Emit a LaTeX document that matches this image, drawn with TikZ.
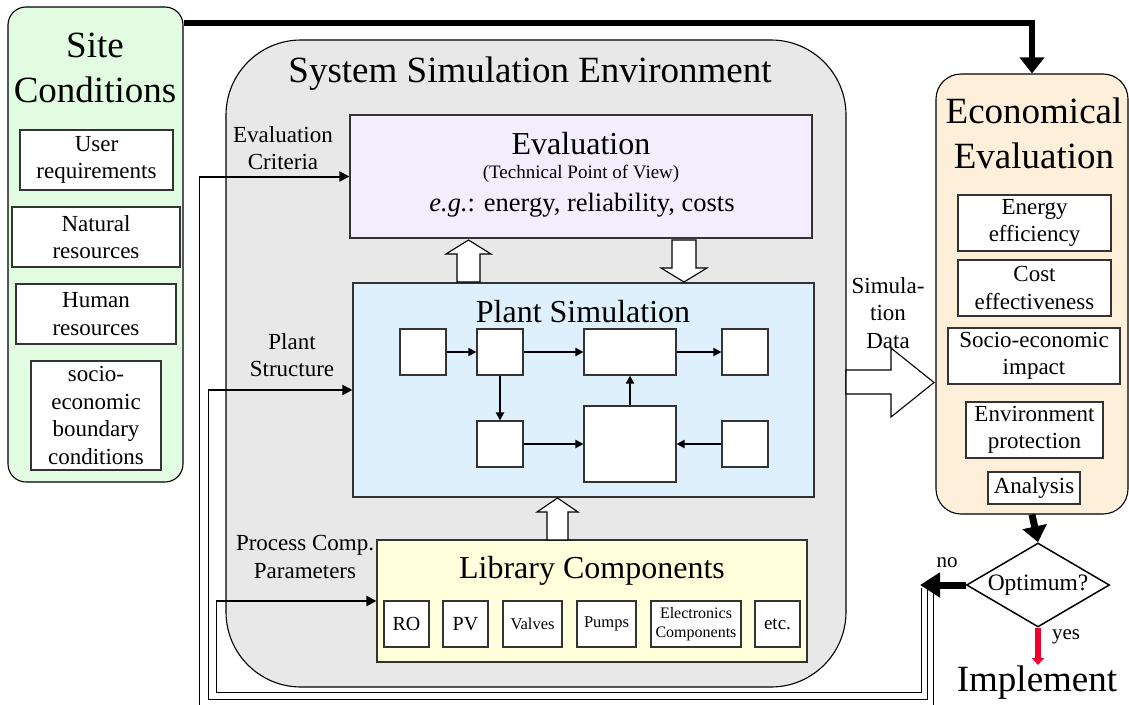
\documentclass[tikz,border=0pt]{standalone}
\usepackage{fontspec}
\setmainfont{Liberation Serif}
\usetikzlibrary{arrows.meta,shapes.geometric}
\definecolor{sitegreen}{RGB}{226,252,226}
\definecolor{envgray}{RGB}{232,232,232}
\definecolor{evallav}{RGB}{243,238,254}
\definecolor{plantblue}{RGB}{222,240,252}
\definecolor{libyellow}{RGB}{255,255,220}
\definecolor{econpeach}{RGB}{253,239,217}
\definecolor{yesred}{RGB}{240,0,44}
\newcommand\myfs[2]{\fontsize{#1}{#2}\selectfont}
\begin{document}
\begin{tikzpicture}[x=1pt,y=-1pt,
  wbox/.style={draw=black!80, fill=white, line width=1.1pt, inner sep=0pt, align=center},
  rbox/.style={draw=black, line width=1.1pt, inner sep=0pt},
  lbl/.style={inner sep=0pt, align=center},
  sarrow/.style={line width=1.8pt, -{Triangle[length=8pt,width=8pt]}},
  inarrow/.style={line width=2pt, -{Triangle[length=10pt,width=10pt]}},
  fbline/.style={line width=1pt},
  blockarrow/.style={draw=black, fill=white, line width=1.1pt, line join=miter},
  small/.style={font=\myfs{23}{27.5}},
]
\useasboundingbox (0,0) rectangle (1129,704);
\clip (0,0) rectangle (1129,704);

% ---------- backgrounds ----------
\node[rbox, fill=sitegreen, rounded corners=18pt, minimum width=175pt, minimum height=475pt] (site) at (95.5,244.5) {};
\node[rbox, fill=envgray, rounded corners=75pt, minimum width=620pt, minimum height=647pt] (env) at (536,363.5) {};
\node[rbox, fill=econpeach, rounded corners=25pt, minimum width=192pt, minimum height=440pt] (econ) at (1032,294) {};

% ---------- Site conditions ----------
\node[lbl, font=\myfs{37}{45}] (sitet) at (95,68) {Site\\Conditions};
\node[wbox, small, minimum width=153pt, minimum height=60pt] (user) at (96.5,160) {User\\requirements};
\node[wbox, small, minimum width=168pt, minimum height=60pt] (natural) at (96,237) {Natural\\resources};
\node[wbox, small, minimum width=160pt, minimum height=60pt] (human) at (96,314) {Human\\resources};
\node[wbox, small, minimum width=130pt, minimum height=109pt] (socio) at (96,415.5) {socio-\\economic\\boundary\\conditions};

% ---------- System simulation environment ----------
\node[lbl, font=\myfs{37}{45}] (envt) at (530,74) {System Simulation Environment};

\node[rbox, draw=black!80, fill=evallav, minimum width=462pt, minimum height=123pt] (eval) at (581,176.5) {};
\node[lbl, font=\myfs{32}{38}] (evalt) at (581,144) {Evaluation};
\node[lbl, font=\myfs{19}{22}] (evaltp) at (581,174) {(Technical Point of View)};
\node[lbl, font=\myfs{26.5}{31}] (evaleg) at (582,205) {\textit{e.g.}: energy, reliability, costs};

\node[rbox, draw=black!80, fill=plantblue, minimum width=461pt, minimum height=214pt] (plant) at (583.5,390) {};
\node[lbl, font=\myfs{32}{38}] (plantt) at (583,312) {Plant Simulation};
\node[wbox, minimum width=46pt, minimum height=46pt] (pa) at (423,352) {};
\node[wbox, minimum width=46pt, minimum height=46pt] (pb) at (500,352) {};
\node[wbox, minimum width=92pt, minimum height=46pt] (pc) at (630,352) {};
\node[wbox, minimum width=46pt, minimum height=46pt] (pd) at (745,352) {};
\node[wbox, minimum width=46pt, minimum height=46pt] (pe) at (500,444) {};
\node[wbox, minimum width=92pt, minimum height=76pt] (pf) at (630,444) {};
\node[wbox, minimum width=46pt, minimum height=46pt] (pg) at (745,444) {};
\draw[sarrow] (pa) -- (pb);
\draw[sarrow] (pb) -- (pc);
\draw[sarrow] (pc) -- (pd);
\draw[sarrow] (pb) -- (pe);
\draw[sarrow] (pe) -- (pf);
\draw[sarrow] (pg) -- (pf);
\draw[sarrow] (pf) -- (pc);

\node[rbox, draw=black!80, fill=libyellow, minimum width=430pt, minimum height=122pt] (lib) at (592,601) {};
\node[lbl, font=\myfs{32}{38}] (libt) at (592,571) {Library Components};
\node[wbox, font=\myfs{20}{24}, minimum width=45pt, minimum height=46pt] (ro) at (406.5,624) {RO};
\node[wbox, font=\myfs{20}{24}, minimum width=45pt, minimum height=46pt] (pv) at (465.5,624) {PV};
\node[wbox, font=\myfs{16.5}{19}, minimum width=59pt, minimum height=46pt] (valves) at (532.5,624) {Valves};
\node[wbox, font=\myfs{16.5}{19}, minimum width=59pt, minimum height=46pt] (pumps) at (606.5,624) {Pumps};
\node[wbox, font=\myfs{16}{19}, minimum width=90pt, minimum height=46pt] (elec) at (696,624) {Electronics\\Components};
\node[wbox, font=\myfs{19}{22}, minimum width=45pt, minimum height=46pt] (etc) at (777.5,624) {etc.};

% block arrows
\draw[blockarrow] (457,282) -- (457,254) -- (446,254) -- (468.5,240) -- (491,254) -- (480,254) -- (480,282) -- cycle;
\draw[blockarrow] (672,240) -- (672,268) -- (661,268) -- (684,282) -- (707,268) -- (696,268) -- (696,240) -- cycle;
\draw[blockarrow] (547,540) -- (547,512) -- (537,512) -- (557.5,498) -- (578,512) -- (568,512) -- (568,540) -- cycle;
\draw[blockarrow] (846,370) -- (891,370) -- (891,348) -- (934,382.5) -- (891,417) -- (891,394) -- (846,394) -- cycle;

% side labels
\node[lbl, small] (lcrit) at (283,148) {Evaluation\\Criteria};
\node[lbl, small] (lstruct) at (292,355) {Plant\\Structure};
\node[lbl, small] (lproc) at (305,557) {Process Comp.\\Parameters};
\node[lbl, small] (lsim) at (888,313) {Simula-\\tion\\Data};

% ---------- Economical evaluation ----------
\node[lbl, font=\myfs{37}{45}] (econt) at (1034,133) {Economical\\Evaluation};
\node[wbox, small, minimum width=153pt, minimum height=56pt] (energy) at (1034.5,223) {Energy\\efficiency};
\node[wbox, small, minimum width=153pt, minimum height=56pt] (cost) at (1034.5,288) {Cost\\effectiveness};
\node[wbox, small, minimum width=172pt, minimum height=56pt] (impact) at (1034,356) {Socio-economic\\impact};
\node[wbox, small, minimum width=137pt, minimum height=56pt] (envp) at (1034.5,430) {Environment\\protection};
\node[wbox, small, minimum width=92pt, minimum height=32pt] (analysis) at (1034,488) {Analysis};

% ---------- decision ----------
\node[draw=black, line width=1.5pt, fill=white, diamond, aspect=1.7, inner sep=0pt,
      minimum width=143pt, minimum height=84pt, font=\myfs{23.5}{27}] (opt) at (1038,585) {Optimum?};
\node[lbl, font=\myfs{37}{45}] (impl) at (1037,683) {Implement};
\node[lbl, font=\myfs{21}{25}] (lno) at (947,563) {no};
\node[lbl, font=\myfs{21}{25}] (lyes) at (1066,637) {yes};
\coordinate (redend) at (1038,665);
\coordinate (notip) at (920,585);

% ---------- feedback lines ----------
\coordinate (fl) at (216,601);
\coordinate (fp) at (208,390);
\coordinate (fe) at (199,176.5);
\coordinate (n1) at (921,588);
\coordinate (n2) at (927,588);
\coordinate (n3) at (933,588);
\coordinate (b1) at (0,692);
\coordinate (b2) at (0,699.5);
\coordinate (b3) at (0,710);
\draw[fbline] (n1) -- (n1 |- b1) -| (fl);
\draw[fbline] (n2) -- (n2 |- b2) -| (fp);
\draw[fbline] (n3) -- (n3 |- b3) -| (fe);
\draw[inarrow] (fe) -- (eval.west);
\draw[inarrow] (fp) -- (plant.west);
\draw[inarrow] (fl) -- (lib.west);

% ---------- thick arrows ----------
\draw[line width=6pt, -{Triangle[length=16pt,width=24pt]}] ([yshift=-17pt]site.north east) -| (econ.north);
\draw[line width=7pt, -{Triangle[length=16pt,width=24pt]}] (econ.south) -- (opt.north);
\draw[line width=7pt, -{Triangle[length=20pt,width=24pt]}] (opt.west) -- (notip);
\draw[yesred, line width=5.5pt, -{Triangle[length=7pt,width=12pt]}] (opt.south) -- (redend);
\end{tikzpicture}
\end{document}
